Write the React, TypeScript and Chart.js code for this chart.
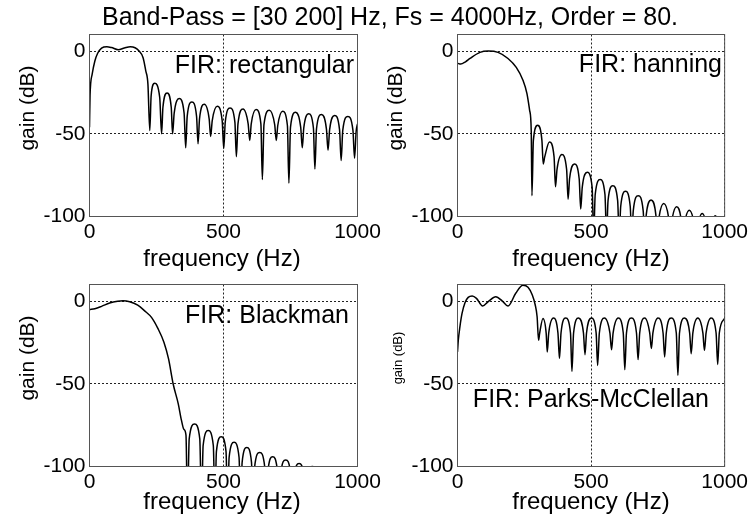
import React, { useEffect, useRef } from "react";
import { Chart, registerables } from "chart.js";

Chart.register(...registerables);

const FONT = "'Liberation Sans', Arial, Helvetica, sans-serif";
const W = 751;
const H = 525;

const FIGURE_TITLE = "Band-Pass = [30 200] Hz, Fs = 4000Hz, Order = 80.";
const X_LABEL = "frequency (Hz)";
const Y_LABEL = "gain (dB)";
const FREQ_MIN = 0;
const FREQ_MAX = 1000;
const GAIN_MIN = -100;
const GAIN_MAX = 10;
const FREQ_TICKS = [0, 500, 1000];
const GAIN_TICKS = [-100, -50, 0];

type Pt = [number, number];

// [frequency Hz, gain dB]
const rectangularResponse: Pt[] = [
  [0, -46], [2, -27], [10, -14], [20, -6], [30, -1.5], [45, 1.8], [65, 2.6], [82, 2.1],
  [107, 0.8], [130, 1.8], [152, 2.6], [170, 2], [185, 0], [200, -4], [210, -12], [218, -20], [225, -48],
  [230, -27], [243, -19.5], [262, -28], [269, -50],
  [274, -34], [289.5, -25.3], [305, -34], [310, -50],
  [316, -37.5], [334.5, -28.7], [353, -37.5], [359, -58.5],
  [364.5, -39.5], [382, -30.8], [399.5, -39.5], [405, -56],
  [410.5, -41], [428.5, -32.2], [446.5, -41], [452, -51.6],
  [458, -42], [476.5, -33.4], [495, -42], [501, -59],
  [506.5, -43], [524.5, -34.4], [542.5, -43], [548, -63.8],
  [554, -44], [573, -35], [592, -44], [598, -54],
  [603.5, -44], [621.5, -35.4], [639.5, -44], [645, -77.7],
  [651, -44.5], [671, -35.8], [691, -44.5], [697, -54],
  [702.5, -45], [720.5, -36.4], [738.5, -45], [744, -79.8],
  [750, -46], [769, -37], [788, -46], [794, -58.5],
  [799.5, -46.5], [817.5, -37.9], [835.5, -46.5], [841, -71.3],
  [847, -47], [865.5, -38.3], [884, -47], [890, -60],
  [896, -47.5], [914.5, -38.9], [933, -47.5], [939, -66.2],
  [945, -48], [964, -39.5], [983, -48], [989, -64.8],
  [995, -48.5], [1000, -44],
];

const hanningResponse: Pt[] = [
  [0, -7.4], [12, -7.9], [30, -6.5], [47, -4.5], [84, -0.8], [115, 0], [152, -0.8], [189, -4.5],
  [220, -9.9], [245, -17.6], [260, -25.7], [270, -35.8], [276, -48], [278.7, -87.4],
  [284, -54], [300, -44.9], [316, -54], [320.9, -68.2],
  [326.5, -64], [344, -55], [361.5, -64], [366.8, -82],
  [372.5, -71.6], [390.5, -62.6], [408.5, -71.6], [414, -89.5],
  [419.5, -77.2], [437.5, -68.2], [455.5, -77.2], [461.2, -95.5],
  [467, -82.3], [485.5, -73.3], [504, -82.3], [509.6, -112],
  [515.5, -86.7], [534, -77.7], [552, -86.7], [558, -112],
  [563.5, -90.4], [581.5, -81.4], [599.5, -90.4], [605.2, -112],
  [611, -93.8], [629, -84.8], [646.5, -93.8], [652.4, -112],
  [658, -96.4], [676.5, -87.4], [695, -96.4], [700.8, -112],
  [706.5, -99], [724.5, -90], [742.5, -99], [748, -112],
  [754, -101], [772, -92.1], [790.5, -101], [796.4, -112],
  [802, -103], [820, -94.1], [838, -103], [843.5, -115],
  [849.5, -105], [867.5, -96.2], [886, -105], [891.9, -115],
  [897.5, -107], [916, -98.2], [934.5, -107], [940.3, -115],
  [946, -108.6], [964.5, -99.6], [983, -108.6], [988.8, -118],
  [1000, -109],
];

const blackmanResponse: Pt[] = [
  [0, -5.1], [20, -4.6], [45, -3.2], [75, -1.2], [105, -0.1], [125, 0.2], [150, -0.4], [180, -2.5],
  [205, -5.8], [232, -10], [255, -16.5], [278, -25], [295, -35], [312, -50], [331, -62], [343, -72],
  [352, -77.5], [360, -81], [365.6, -125],
  [372, -83.3], [392, -74.3], [411.5, -83.3], [418, -125],
  [424, -87.3], [443, -78.3], [462, -87.3], [468, -125],
  [473.5, -91], [491.5, -82], [509.5, -91], [515, -125],
  [521, -94.4], [539.5, -85.4], [558, -94.4], [564, -125],
  [569.5, -97.5], [587, -88.5], [604.5, -97.5], [610, -125],
  [616, -100.5], [635, -91.5], [654, -100.5], [660, -125],
  [665.5, -103], [683.5, -94.1], [701.5, -103], [707, -125],
  [713, -105], [732, -96], [751, -105], [757, -125],
  [763, -107], [782, -98.2], [801, -107], [807, -125],
  [813, -109], [831.5, -100], [850, -109], [856, -125],
  [1000, -125],
];

const parksMcClellanResponse: Pt[] = [
  [0, -30.8], [3, -23.7], [9, -15.6], [17, -7.5], [28, -1], [40, 2.2], [55, 3], [71, 1.6], [94, -3],
  [115, -0.3], [143.5, 2.6], [168, 0], [189, -3], [218, 4.7], [245, 9.5], [264, 8.3], [280, 3.6],
  [291, -2.4], [298, -9.5], [303.5, -23.7],
  [307.5, -19.5], [320, -10.5], [332, -19.5], [336, -30.8],
  [341.5, -19.3], [359, -10.3], [376, -19.3], [381.7, -34.8],
  [387.5, -19.3], [405, -10.3], [423, -19.3], [428.4, -42.5],
  [434.5, -19.3], [453, -10.3], [471.5, -19.3], [477.3, -32.4],
  [483, -19.3], [501, -10.3], [519, -19.3], [524.5, -38.9],
  [531, -19.3], [550.5, -10.3], [570.5, -19.3], [576.7, -29.4],
  [582.5, -19.3], [601.5, -10.3], [620.5, -19.3], [626.3, -41.5],
  [632.5, -19.3], [651, -10.3], [670, -19.3], [676, -35.4],
  [682, -19.3], [701, -10.3], [719.5, -19.3], [725.7, -28.7],
  [731.5, -19.3], [750.5, -10.3], [769.5, -19.3], [775.4, -33.8],
  [781.5, -19.3], [800, -10.3], [819, -19.3], [825, -44.9],
  [831, -19.3], [850, -10.3], [869, -19.3], [874.8, -31.8],
  [881, -19.3], [899.5, -10.3], [918.5, -19.3], [924.4, -29.8],
  [930.5, -19.3], [949, -10.3], [968, -19.3], [974, -38.3],
  [980, -19.3], [1000, -10.5],
];

interface Panel {
  name: string;
  data: Pt[];
  area: { left: number; top: number; right: number; bottom: number };
  nameX: number;
  nameY: number;
  nameAlign: CanvasTextAlign;
  yTitle: { x: number; y: number; size: number };
  xTitle: { x: number; y: number };
  showFigureTitle: boolean;
}

const PANELS: Panel[] = [
  {
    name: "FIR: rectangular",
    data: rectangularResponse,
    area: { left: 89.5, top: 34.5, right: 357.5, bottom: 216.5 },
    nameX: 354, nameY: 72.5, nameAlign: "right",
    yTitle: { x: 28.5, y: 108, size: 21 },
    xTitle: { x: 222, y: 265.5 },
    showFigureTitle: true,
  },
  {
    name: "FIR: hanning",
    data: hanningResponse,
    area: { left: 457.5, top: 34.5, right: 725.5, bottom: 216.5 },
    nameX: 722, nameY: 71.5, nameAlign: "right",
    yTitle: { x: 396.5, y: 108, size: 21 },
    xTitle: { x: 591, y: 265.5 },
    showFigureTitle: false,
  },
  {
    name: "FIR: Blackman",
    data: blackmanResponse,
    area: { left: 89.5, top: 284.5, right: 357.5, bottom: 466.5 },
    nameX: 349, nameY: 323, nameAlign: "right",
    yTitle: { x: 28.5, y: 358, size: 21 },
    xTitle: { x: 222, y: 509 },
    showFigureTitle: false,
  },
  {
    name: "FIR: Parks-McClellan",
    data: parksMcClellanResponse,
    area: { left: 457.5, top: 284.5, right: 725.5, bottom: 466.5 },
    nameX: 709, nameY: 406.5, nameAlign: "right",
    yTitle: { x: 398.5, y: 358, size: 13 },
    xTitle: { x: 591, y: 509 },
    showFigureTitle: false,
  },
];

const Y_AXIS_WIDTH = 60;
const X_AXIS_HEIGHT = 40;

function makeDecorPlugin(p: Panel) {
  return {
    id: "panelDecor",
    afterDraw(chart: Chart) {
      const ctx = chart.ctx;
      const a = chart.chartArea;
      ctx.save();
      ctx.setLineDash([]);
      ctx.strokeStyle = "#555";
      ctx.lineWidth = 1;
      ctx.strokeRect(a.left, a.top, a.right - a.left, a.bottom - a.top);

      ctx.fillStyle = "#000";
      ctx.textBaseline = "alphabetic";
      ctx.font = `25px ${FONT}`;
      ctx.textAlign = p.nameAlign;
      ctx.fillText(p.name, p.nameX, p.nameY);

      ctx.font = `24px ${FONT}`;
      ctx.textAlign = "center";
      ctx.fillText(X_LABEL, p.xTitle.x, p.xTitle.y);

      if (p.showFigureTitle) {
        ctx.font = `25px ${FONT}`;
        ctx.textAlign = "center";
        ctx.fillText(FIGURE_TITLE, 390, 25);
      }

      ctx.translate(p.yTitle.x, p.yTitle.y);
      ctx.rotate(-Math.PI / 2);
      ctx.font = `${p.yTitle.size}px ${FONT}`;
      ctx.textAlign = "center";
      ctx.textBaseline = "middle";
      ctx.fillText(Y_LABEL, 0, 0);
      ctx.restore();
    },
  };
}

function PanelChart({ panel }: { panel: Panel }) {
  const ref = useRef<HTMLCanvasElement | null>(null);
  useEffect(() => {
    if (!ref.current) return;
    const a = panel.area;
    const tickFont = { family: FONT, size: 21 };
    const chart = new Chart(ref.current, {
      type: "line",
      data: {
        datasets: [
          {
            data: panel.data.map(([x, y]) => ({ x, y })),
            borderColor: "#000",
            borderWidth: 1.5,
            pointRadius: 0,
            fill: false,
            cubicInterpolationMode: "monotone",
            clip: 0,
          } as any,
        ],
      },
      options: {
        animation: false,
        responsive: false,
        devicePixelRatio: 1,
        events: [],
        layout: {
          padding: {
            left: a.left - Y_AXIS_WIDTH,
            top: a.top,
            right: W - a.right,
            bottom: H - a.bottom - X_AXIS_HEIGHT,
          },
        },
        plugins: {
          legend: { display: false },
          tooltip: { enabled: false },
          title: { display: false },
        },
        scales: {
          x: {
            type: "linear",
            min: FREQ_MIN,
            max: FREQ_MAX,
            afterBuildTicks: (s: any) => {
              s.ticks = FREQ_TICKS.map((v) => ({ value: v }));
            },
            afterFit: (s: any) => {
              s.height = X_AXIS_HEIGHT;
            },
            ticks: {
              font: tickFont,
              color: "#000",
              padding: 3,
              maxRotation: 0,
              autoSkip: false,
              callback: (v: any) => String(v),
            },
            grid: { color: "#222", lineWidth: 1, drawTicks: false },
            border: { display: false, dash: [2, 2] },
          },
          y: {
            type: "linear",
            min: GAIN_MIN,
            max: GAIN_MAX,
            afterBuildTicks: (s: any) => {
              s.ticks = GAIN_TICKS.map((v) => ({ value: v }));
            },
            afterFit: (s: any) => {
              s.width = Y_AXIS_WIDTH;
            },
            ticks: {
              font: tickFont,
              color: "#000",
              padding: 4,
              autoSkip: false,
              callback: (v: any) => String(v),
            },
            grid: { color: "#222", lineWidth: 1, drawTicks: false },
            border: { display: false, dash: [2, 2] },
          },
        },
      } as any,
      plugins: [makeDecorPlugin(panel)],
    });
    return () => chart.destroy();
  }, [panel]);
  return (
    <canvas
      ref={ref}
      width={W}
      height={H}
      style={{ position: "absolute", left: 0, top: 0, width: W, height: H }}
    />
  );
}

export default function App() {
  return (
    <div
      style={{
        position: "absolute",
        left: 0,
        top: 0,
        width: W,
        height: H,
        background: "#fff",
        overflow: "hidden",
      }}
    >
      {PANELS.map((p, i) => (
        <PanelChart key={i} panel={p} />
      ))}
    </div>
  );
}
